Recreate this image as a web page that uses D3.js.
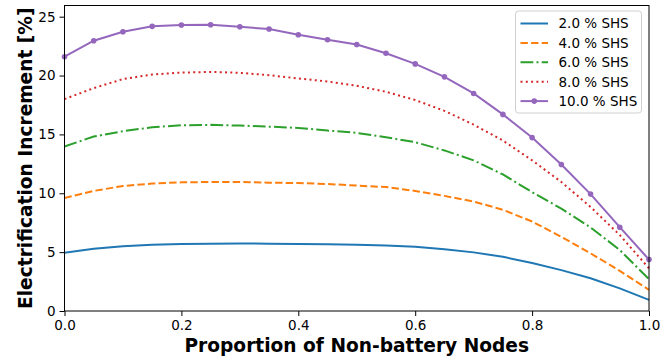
<!DOCTYPE html>
<html>
<head>
<meta charset="utf-8">
<script src="https://cdn.jsdelivr.net/npm/d3@7"></script>
<style>
  html, body { margin: 0; padding: 0; background: #fff; }
  svg { display: block; font-family: 'DejaVu Sans', sans-serif; }
</style>
</head>
<body>
<div id="chart"></div>
<script>
// proportion of non-battery nodes
const proportion = [0.0, 0.05, 0.1, 0.15, 0.2, 0.25, 0.3, 0.35, 0.4, 0.45, 0.5,
  0.55, 0.6, 0.65, 0.7, 0.75, 0.8, 0.85, 0.9, 0.95, 1.0];

// electrification increment [%] per SHS share
const shs2 = [4.95, 5.28, 5.5, 5.63, 5.69, 5.71, 5.74, 5.71, 5.69, 5.66, 5.62,
  5.57, 5.46, 5.24, 4.98, 4.6, 4.08, 3.47, 2.78, 1.92, 0.95];
const shs4 = [9.6, 10.2, 10.62, 10.82, 10.93, 10.96, 10.96, 10.9, 10.87, 10.79, 10.65,
  10.53, 10.2, 9.78, 9.3, 8.6, 7.6, 6.3, 4.9, 3.41, 1.8];
const shs6 = [13.97, 14.82, 15.27, 15.61, 15.78, 15.81, 15.75, 15.66, 15.55, 15.33, 15.13,
  14.76, 14.34, 13.64, 12.8, 11.6, 10.1, 8.7, 7.1, 5.18, 2.7];
const shs8 = [18.0, 18.93, 19.7, 20.09, 20.25, 20.31, 20.23, 20.03, 19.75, 19.5, 19.13,
  18.62, 17.92, 17.0, 15.83, 14.48, 12.8, 10.96, 8.84, 6.45, 3.63];
const shs10 = [21.6, 22.96, 23.72, 24.18, 24.29, 24.31, 24.14, 23.95, 23.47, 23.04, 22.64,
  21.89, 20.99, 19.89, 18.48, 16.7, 14.73, 12.45, 9.93, 7.12, 4.37];

const seriesNames = ['2.0 % SHS', '4.0 % SHS', '6.0 % SHS', '8.0 % SHS', '10.0 % SHS'];
const xTicks = [0, 0.2, 0.4, 0.6, 0.8, 1.0];
const yTicks = [0, 5, 10, 15, 20, 25];

const W = 668, H = 362;
const margin = { LEFT: 64.5, RIGHT: 19, TOP: 5.5, BOTTOM: 51 };
const WIDTH = W - margin.LEFT - margin.RIGHT;
const HEIGHT = H - margin.TOP - margin.BOTTOM;

const series = [
  { name: seriesNames[0], data: shs2, color: '#1f77b4', dash: null, marker: false },
  { name: seriesNames[1], data: shs4, color: '#ff7f0e', dash: '7.4,3.2', marker: false },
  { name: seriesNames[2], data: shs6, color: '#2ca02c', dash: '12.8,3.2,2,3.2', marker: false },
  { name: seriesNames[3], data: shs8, color: '#d62728', dash: '2,3.3', marker: false },
  { name: seriesNames[4], data: shs10, color: '#9467bd', dash: null, marker: true }
];

const svg = d3.select('#chart').append('svg')
  .attr('width', W)
  .attr('height', H);

const g = svg.append('g')
  .attr('transform', `translate(${margin.LEFT}, ${margin.TOP})`);

// scales
const x = d3.scaleLinear().domain([0, 1]).range([0, WIDTH]);
const y = d3.scaleLinear().domain([0, 25.95]).range([HEIGHT, 0]);

// axes
const xAxis = g.append('g')
  .attr('transform', `translate(0, ${HEIGHT})`)
  .call(d3.axisBottom(x).tickValues(xTicks).tickFormat(d3.format('.1f')).tickSizeOuter(0).tickSize(5).tickPadding(4));

const yAxis = g.append('g')
  .call(d3.axisLeft(y).tickValues(yTicks).tickFormat(d3.format('d')).tickSizeOuter(0).tickSize(5).tickPadding(4));

[xAxis, yAxis].forEach(a => {
  a.select('.domain').remove();
  a.selectAll('line').attr('stroke', '#000').attr('stroke-width', 1);
  a.selectAll('text')
    .attr('font-family', 'DejaVu Sans')
    .attr('font-size', '13.5px')
    .attr('fill', '#000');
});

// lines
const line = d3.line()
  .x((d, i) => x(proportion[i]))
  .y(d => y(d));

series.forEach(s => {
  g.append('path')
    .attr('d', line(s.data))
    .attr('fill', 'none')
    .attr('stroke', s.color)
    .attr('stroke-width', 2)
    .attr('stroke-dasharray', s.dash);

  if( s.marker ) {
    g.selectAll(null)
      .data(s.data)
      .enter().append('circle')
      .attr('cx', (d, i) => x(proportion[i]))
      .attr('cy', d => y(d))
      .attr('r', 2.8)
      .attr('fill', s.color);
  }
});

// frame
g.append('rect')
  .attr('x', 0)
  .attr('y', 0)
  .attr('width', WIDTH)
  .attr('height', HEIGHT)
  .attr('fill', 'none')
  .attr('stroke', '#000')
  .attr('stroke-width', 1);

// axis labels
svg.append('text')
  .attr('x', margin.LEFT + WIDTH / 2)
  .attr('y', 352)
  .attr('text-anchor', 'middle')
  .attr('font-size', '18.6px')
  .attr('font-weight', 'bold')
  .text('Proportion of Non-battery Nodes');

svg.append('text')
  .attr('transform', `translate(31.5, ${margin.TOP + HEIGHT / 2}) rotate(-90)`)
  .attr('text-anchor', 'middle')
  .attr('font-size', '18.6px')
  .attr('font-weight', 'bold')
  .text('Electrification Increment [%]');

// legend
const legend = svg.append('g')
  .attr('transform', 'translate(515.5, 11)');

legend.append('rect')
  .attr('width', 126)
  .attr('height', 102)
  .attr('rx', 3)
  .attr('fill', '#fff')
  .attr('fill-opacity', 0.8)
  .attr('stroke', '#d0d0d0')
  .attr('stroke-width', 1);

series.forEach((s, i) => {
  const ly = 12.5 + i * 19.4;
  legend.append('line')
    .attr('x1', 5)
    .attr('x2', 32.5)
    .attr('y1', ly)
    .attr('y2', ly)
    .attr('stroke', s.color)
    .attr('stroke-width', 2)
    .attr('stroke-dasharray', s.dash);
  if( s.marker ) {
    legend.append('circle')
      .attr('cx', 18.75)
      .attr('cy', ly)
      .attr('r', 2.8)
      .attr('fill', s.color);
  }
  legend.append('text')
    .attr('x', 43)
    .attr('y', ly)
    .attr('dy', '0.36em')
    .attr('font-size', '13.5px')
    .text(s.name);
});
</script>
</body>
</html>
